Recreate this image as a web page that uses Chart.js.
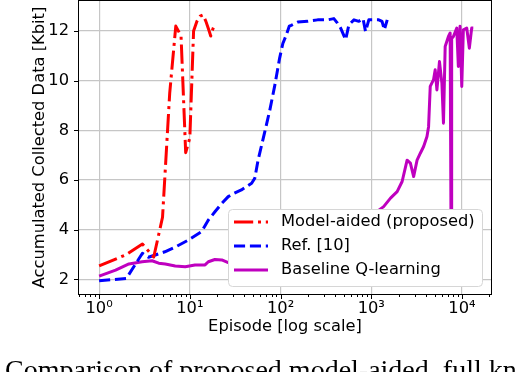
<!DOCTYPE html>
<html>
<head>
<meta charset="utf-8">
<script src="https://cdn.jsdelivr.net/npm/chart.js"></script>
<style>
  html, body { margin: 0; padding: 0; background: #fff; overflow: hidden; }
  #wrap { position: relative; width: 516px; height: 372px; overflow: hidden; }
  #caption { position: absolute; left: 5px; top: 356px; font-family: "Liberation Serif", serif; font-size: 28px; line-height: 28px; white-space: nowrap; color: #000; }
</style>
</head>
<body>
<div id="wrap">
  <canvas id="chart" width="516" height="372"></canvas>
  <div id="caption">Comparison of proposed model-aided, full knowledge</div>
</div>
<script>
// values: episode -> accumulated collected data [Kbit]
const modelEp = [1, 2, 3, 4, 5, 6, 7, 8, 9, 10, 11, 12, 13, 14, 15, 16, 17, 18, 19];
const modelVal = [2.54, 3.0, 3.42, 2.9, 4.5, 9.5, 12.2, 11.8, 7.1, 7.7, 12.0, 12.4, 12.6, 12.65, 12.4, 12.1, 11.8, 12.1, 12.3];

const refEp = [1, 2, 3, 3.5, 5.3, 6.9, 9.6, 13.5, 16, 19, 22.5, 26.5, 31, 37, 48, 52, 56.5, 66.6, 76, 86,
  97.6, 106, 114, 125, 131, 155, 198, 256, 329, 387, 424, 460, 522, 567, 645, 730, 812, 865, 940, 1065,
  1210, 1315, 1395, 1500];
const refVal = [1.94, 2.04, 3.05, 2.89, 3.11, 3.3, 3.58, 3.92, 4.39, 4.73, 5.06, 5.33, 5.47, 5.6, 5.87, 6.07, 6.8, 7.9, 8.8, 9.77,
  10.9, 11.5, 11.78, 12.2, 12.23, 12.36, 12.39, 12.45, 12.45, 12.5, 12.32, 12.12, 11.65, 12.25, 12.45, 12.39, 12.5, 11.98, 12.45, 12.45,
  12.45, 12.39, 12.05, 12.45];

const baseEp = [1, 1.52, 2.13, 2.98, 3.83, 4.54, 5.36, 6.9, 8.9, 11.4, 14.7, 16, 18.9, 22.5, 26.5, 40, 100, 300, 800, 1370,
  1630, 1930, 2190, 2485, 2700, 2935, 3200, 3475, 3780, 4115, 4285, 4470, 4860, 5070, 5295, 5650, 6010, 6255, 6530, 7095,
  7410, 7590, 7700, 8050, 8765, 9125, 9525, 9950, 10360, 11290, 12060, 12800, 13330];
const baseVal = [2.13, 2.37, 2.62, 2.71, 2.75, 2.65, 2.62, 2.54, 2.51, 2.58, 2.58, 2.71, 2.8, 2.78, 2.67, 2.7, 3.0, 3.5, 4.3, 4.93,
  5.27, 5.53, 5.94, 6.8, 6.68, 6.14, 6.8, 7.08, 7.35, 7.75, 8.15, 9.77, 10.04, 10.44, 9.63, 10.77, 9.9, 8.29, 11.38, 11.78,
  11.92, 3.3, 11.7, 11.78, 12.12, 10.57, 12.19, 9.77, 12.05, 12.12, 11.31, 12.12, 12.12];

const seriesNames = ['Model-aided (proposed)', 'Ref. [10]', 'Baseline Q-learning'];
const xMajor = [1, 10, 100, 1000, 10000];
const xTickLabels = ['10\u2070', '10\u00B9', '10\u00B2', '10\u00B3', '10\u2074'];
const yTicks = [2, 4, 6, 8, 10, 12];

const FONT = { family: 'DejaVu Sans', size: 16.3 };
const gridColor = '#c6c6c6';

// all log ticks 1..9 x 10^k (minor ones unlabeled)
const logTicks = [];
for (let k = -1; k <= 4; k++) {
  for (let m = 1; m <= 9; m++) logTicks.push(Number((m * Math.pow(10, k)).toPrecision(6)));
}

const pts = (xs, ys) => xs.map((x, i) => ({ x: x, y: ys[i] }));

// matplotlib-style legend box in the lower right of the axes
const boxLegend = {
  id: 'boxLegend',
  afterDraw(chart) {
    const { ctx, chartArea: a } = chart;
    const w = 254, h = 77;
    const x0 = a.right - 9 - w, y0 = a.bottom - 8 - h;
    ctx.save();
    ctx.beginPath();
    ctx.roundRect(x0 + 0.5, y0 + 0.5, w, h, 4);
    ctx.fillStyle = '#fff';
    ctx.fill();
    ctx.strokeStyle = '#d6d6d6';
    ctx.lineWidth = 1;
    ctx.stroke();
    chart.data.datasets.forEach((ds, i) => {
      const cy = y0 + 13 + i * 24;
      ctx.beginPath();
      ctx.setLineDash(ds.borderDash || []);
      ctx.lineCap = 'butt';
      ctx.strokeStyle = ds.borderColor;
      ctx.lineWidth = ds.borderWidth;
      ctx.moveTo(x0 + 6, cy);
      ctx.lineTo(x0 + 40, cy);
      ctx.stroke();
      ctx.setLineDash([]);
      ctx.fillStyle = '#000';
      ctx.font = FONT.size + 'px "' + FONT.family + '"';
      ctx.textBaseline = 'middle';
      ctx.textAlign = 'left';
      ctx.fillText(ds.label, x0 + 53, cy);
    });
    ctx.restore();
  }
};

// tick marks + axes frame
const axesFrame = {
  id: 'axesFrame',
  afterDraw(chart) {
    const { ctx, chartArea: a, scales } = chart;
    ctx.save();
    ctx.strokeStyle = '#000';
    ctx.lineWidth = 1;
    ctx.beginPath();
    scales.x.ticks.forEach(t => {
      const px = Math.round(scales.x.getPixelForValue(t.value)) + 0.5;
      const len = xMajor.includes(t.value) ? 5 : 3;
      ctx.moveTo(px, a.bottom);
      ctx.lineTo(px, a.bottom + len);
    });
    scales.y.ticks.forEach(t => {
      const py = Math.round(scales.y.getPixelForValue(t.value)) + 0.5;
      ctx.moveTo(a.left, py);
      ctx.lineTo(a.left - 5, py);
    });
    ctx.stroke();
    ctx.strokeRect(a.left - 0.5, a.top - 0.5, a.right - a.left + 1, a.bottom - a.top + 1);
    ctx.restore();
  }
};

const noPad = s => { s.paddingTop = 0; s.paddingBottom = 0; s.paddingLeft = 0; s.paddingRight = 0; };

new Chart(document.getElementById('chart'), {
  type: 'line',
  data: {
    datasets: [
      { label: seriesNames[0], data: pts(modelEp, modelVal), borderColor: '#ff0000', borderWidth: 3, borderDash: [19.2, 4.8, 3, 4.8] },
      { label: seriesNames[1], data: pts(refEp, refVal), borderColor: '#0000ff', borderWidth: 3, borderDash: [11.1, 4.8] },
      { label: seriesNames[2], data: pts(baseEp, baseVal), borderColor: '#bf00bf', borderWidth: 3 }
    ]
  },
  options: {
    responsive: false,
    animation: false,
    devicePixelRatio: 1,
    layout: { padding: { left: 0, right: 25, top: 1, bottom: 0 } },
    plugins: { legend: { display: false }, tooltip: { enabled: false } },
    elements: {
      point: { radius: 0 },
      line: { tension: 0, borderJoinStyle: 'round', fill: false }
    },
    scales: {
      x: {
        type: 'logarithmic',
        min: 0.64, max: 20900,
        afterBuildTicks: s => { s.ticks = logTicks.filter(v => v >= s.min && v <= s.max).map(v => ({ value: v })); },
        afterFit: s => { s.height = 78; noPad(s); },
        ticks: {
          autoSkip: false, maxRotation: 0, minRotation: 0, padding: 5,
          color: '#000', font: FONT,
          callback: v => { const i = xMajor.indexOf(v); return i >= 0 ? xTickLabels[i] : ''; }
        },
        grid: {
          drawTicks: false, lineWidth: 1.2,
          color: c => (c.tick && xMajor.includes(c.tick.value)) ? gridColor : 'rgba(0,0,0,0)'
        },
        border: { display: false },
        title: { display: true, text: 'Episode [log scale]', color: '#000', font: FONT, padding: { top: 0, bottom: 35 } }
      },
      y: {
        min: 1.41, max: 13.21,
        afterBuildTicks: s => { s.ticks = yTicks.map(v => ({ value: v })); },
        afterFit: s => { s.width = 79; noPad(s); },
        ticks: { padding: 10, color: '#000', font: FONT },
        grid: { drawTicks: false, lineWidth: 1.2, color: gridColor },
        border: { display: false },
        title: { display: true, text: 'Accumulated Collected Data [Kbit]', color: '#000', font: FONT, padding: { top: 30, bottom: 0 } }
      }
    }
  },
  plugins: [boxLegend, axesFrame]
});
</script>
</body>
</html>
